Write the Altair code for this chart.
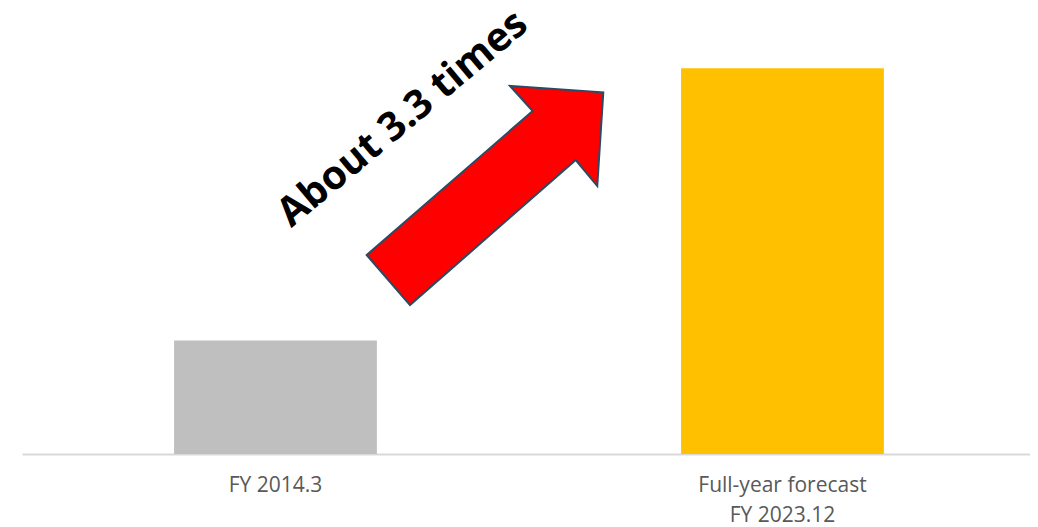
import altair as alt
import pandas as pd

# ---- data ----
categories = ["FY 2014.3", "Full-year forecast|FY 2023.12"]
values = [1.0, 3.4]
bar_colors = ["#BFBFBF", "#FFC000"]
annotation = "About 3.3 times"

df = pd.DataFrame({"category": categories, "value": values, "color": bar_colors})

W, H = 1008, 446
PAD_L = 14
TOP = 8
LEFT = 8 + PAD_L

# arrow outline (unit symbol path, scaled by size)
ARROW_PATH = ("M -1 0.503 L 0.403 -0.714 L 0.211 -0.926 L 1 -0.872 "
              "L 0.949 -0.080 L 0.767 -0.300 L -0.634 0.926 Z")

x_enc = alt.X(
    "category:N",
    sort=categories,
    scale=alt.Scale(paddingInner=0.6, paddingOuter=0.2941, align=0.51),
    axis=alt.Axis(title=None, labels=False, ticks=False, grid=False,
                  domain=True, domainColor="#D9D9D9", domainWidth=2),
)

bars = alt.Chart(df).mark_bar().encode(
    x=x_enc,
    y=alt.Y("value:Q", scale=alt.Scale(domain=[0, 3.93], nice=False, zero=True), axis=None),
    color=alt.Color("color:N", scale=None),
)

labels = alt.Chart(df).mark_text(
    font="Open Sans", fontSize=21, color="#595959", baseline="middle",
    lineBreak="|", lineHeight=30,
).encode(
    x=x_enc,
    y=alt.value(485.5 - TOP),
    text="category:N",
)

arrow = alt.Chart(alt.Data(values=[{"k": 0}])).mark_point(
    shape=ARROW_PATH, size=55980, filled=True, fill="#FF0000",
    stroke="#2C4A63", strokeWidth=2, opacity=1, fillOpacity=1, strokeOpacity=1,
).encode(
    x=alt.value(485 - LEFT),
    y=alt.value(195.5 - TOP),
)

note = alt.Chart(alt.Data(values=[{"t": annotation}])).mark_text(
    font="Open Sans", fontWeight="bold", fontSize=40, angle=320,
    align="center", baseline="middle", color="#000000",
).encode(
    x=alt.value(403 - LEFT),
    y=alt.value(119 - TOP),
    text="t:N",
)

chart = alt.layer(bars, arrow, note, labels).properties(
    width=W,
    height=H,
    padding={"left": PAD_L, "top": 0, "right": 0, "bottom": 72},
    autosize=alt.AutoSizeParams(type="none"),
).configure_view(stroke=None)

chart.save("out.html", embed_options={"renderer": "svg", "actions": False})
